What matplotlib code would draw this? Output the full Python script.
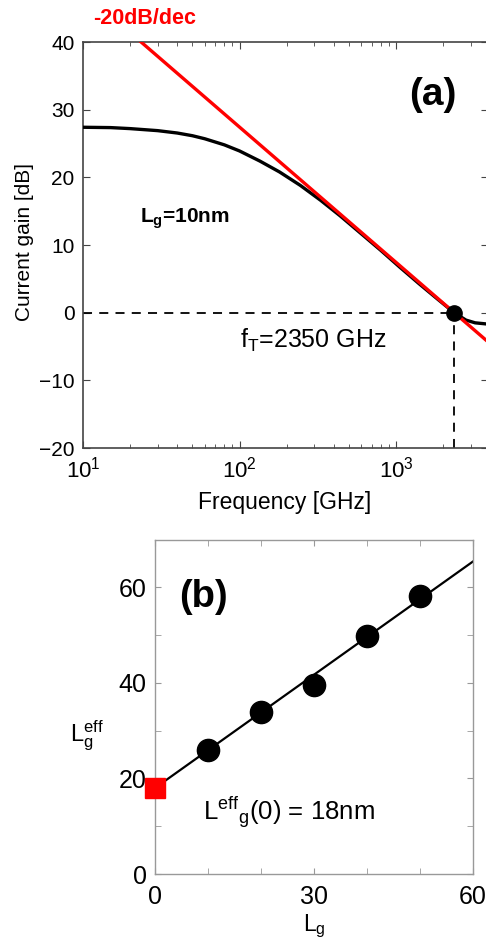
import matplotlib
matplotlib.use("Agg")
import matplotlib.pyplot as plt
from matplotlib.ticker import MultipleLocator, LogLocator

plt.rcParams['font.family'] = ['Liberation Sans', 'DejaVu Sans']
plt.rcParams['mathtext.fontset'] = 'custom'
plt.rcParams['mathtext.rm'] = 'Liberation Sans'
plt.rcParams['mathtext.it'] = 'Liberation Sans:italic'
plt.rcParams['mathtext.bf'] = 'Liberation Sans:bold'

# current gain vs frequency, Lg = 10 nm
freq_ghz = [10, 15, 20, 30, 40, 50, 60, 80, 100, 135, 180, 245, 330, 440,
            590, 800, 1060, 1400, 1800, 2350, 2800, 3200, 3900]
gain_db = [27.4, 27.35, 27.2, 26.9, 26.55, 26.15, 25.7, 24.8, 23.9, 22.4,
           20.8, 18.8, 16.6, 14.3, 11.8, 9.2, 6.7, 4.3, 2.2, 0.0, -1.1,
           -1.5, -1.7]

# -20 dB/dec asymptote through fT
f_t = 2350
asym_freq = [23.5, 4700]
asym_gain = [40, -6]

# effective gate length vs physical gate length
lg_nm = [10, 20, 30, 40, 50]
lg_eff_nm = [26.0, 33.8, 39.6, 49.9, 58.1]
fit_lg = [0, 60]
fit_lg_eff = [18, 65.4]
lg_eff_zero = 18

W, H = 486, 940
fig = plt.figure(figsize=(W / 100, H / 100), dpi=100)

# ---- (a) ----
ax1 = fig.add_axes([83 / W, 1 - 448 / H, 405 / W, 406 / H])
ax1.set_xscale('log')
ax1.plot(freq_ghz, gain_db, color='black', lw=2.4, zorder=3)
ax1.plot(asym_freq, asym_gain, color='#ff0000', lw=2.4, zorder=4)
ax1.plot([10, f_t], [0, 0], color='black', lw=1.3, ls=(0, (5, 4)), zorder=2)
ax1.plot([f_t, f_t], [-20, 0], color='black', lw=1.3, ls=(0, (5, 4)), zorder=2)
ax1.plot([f_t], [0], 'o', color='black', ms=11, zorder=5)
ax1.set_xlim(10, 3870)
ax1.set_ylim(-20, 40)
ax1.yaxis.set_major_locator(MultipleLocator(10))
ax1.xaxis.set_major_locator(LogLocator(base=10))
ax1.xaxis.set_minor_locator(LogLocator(base=10, subs=range(2, 10)))
ax1.tick_params(which='both', direction='in', top=True, right=True,
                labelsize=15, pad=6, color='#444444')
ax1.tick_params(axis='x', labelsize=16)
ax1.tick_params(which='major', length=5)
ax1.tick_params(which='minor', length=3)
for s in ax1.spines.values():
    s.set_color('#444444')
    s.set_linewidth(1.2)

fig.text(25 / W, 1 - 242 / H, 'Current gain [dB]', rotation=90,
         ha='center', va='center', fontsize=15)
fig.text(285 / W, 1 - 503 / H, 'Frequency [GHz]', ha='center', va='center',
         fontsize=16.5)
fig.text(93 / W, 1 - 18 / H, '-20dB/dec', color='#ff0000', fontweight='bold',
         ha='left', va='center', fontsize=15.5)
fig.text(433 / W, 1 - 95 / H, '(a)', fontweight='bold', ha='center',
         va='center', fontsize=28)
fig.text(140 / W, 1 - 223 / H, r'L$_\mathbf{g}$=10nm', fontweight='bold',
         ha='left', va='baseline', fontsize=15)
fig.text(240 / W, 1 - 348 / H, r'f$_\mathrm{T}$=2350 GHz', ha='left',
         va='baseline', fontsize=18)

# ---- (b) ----
ax2 = fig.add_axes([155 / W, 1 - 874 / H, 318 / W, 334.5 / H])
ax2.plot(fit_lg, fit_lg_eff, color='black', lw=1.6, zorder=2)
ax2.plot(lg_nm, lg_eff_nm, 'o', color='black', ms=16, zorder=3)
ax2.plot([0], [lg_eff_zero], 's', color='#ff0000', ms=15, zorder=4,
         clip_on=False)
ax2.set_xlim(0, 60)
ax2.set_ylim(0, 70)
ax2.xaxis.set_major_locator(MultipleLocator(30))
ax2.xaxis.set_minor_locator(MultipleLocator(10))
ax2.yaxis.set_major_locator(MultipleLocator(20))
ax2.yaxis.set_minor_locator(MultipleLocator(10))
ax2.tick_params(which='both', direction='in', top=True, right=True,
                labelsize=18, color='#999999')
ax2.tick_params(axis='x', pad=8)
ax2.tick_params(axis='y', pad=6)
ax2.tick_params(which='major', length=4)
ax2.tick_params(which='minor', length=4)
for s in ax2.spines.values():
    s.set_color('#999999')
    s.set_linewidth(1.0)

fig.text(203 / W, 1 - 597 / H, '(b)', fontweight='bold', ha='center',
         va='center', fontsize=27.5)
fig.text(203 / W, 1 - 820 / H, r'L$^\mathrm{eff}{}_\mathrm{g}$(0) = 18nm',
         ha='left', va='baseline', fontsize=18.5)
fig.text(70 / W, 1 - 741 / H, r'L$_\mathrm{g}^\mathrm{eff}$', ha='left',
         va='baseline', fontsize=17)
fig.text(314 / W, 1 - 931 / H, r'L$_\mathrm{g}$', ha='center',
         va='baseline', fontsize=16.5)

fig.savefig('out.png', dpi=100)
